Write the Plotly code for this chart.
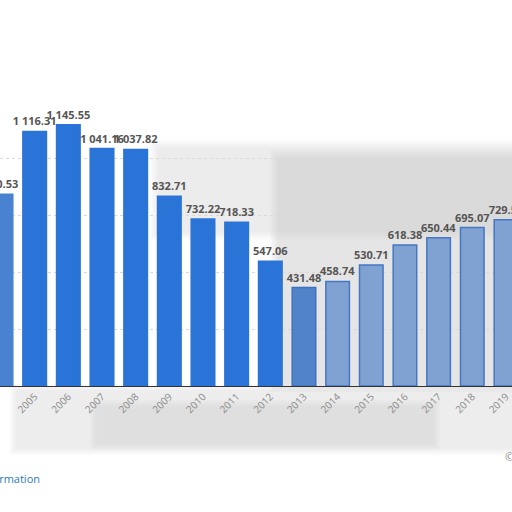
import plotly.graph_objects as go

# values (2004 and 2019 are cut at the edges)
years = [2004, 2005, 2006, 2007, 2008, 2009, 2010, 2011,
         2012, 2013, 2014, 2015, 2016, 2017, 2018, 2019]
values = [840.53, 1116.31, 1145.55, 1041.16, 1037.82, 832.71, 732.22, 718.33,
          547.06, 431.48, 458.74, 530.71, 618.38, 650.44, 695.07, 729.5]
year_labels = [str(y) for y in years]

solid = "#2b74d7"
faded = "#7fa2d2"
bar_colors = ["#4a82d2"] + [solid] * 8 + ["#5183c8"] + [faded] * 6
line_colors = ["#4a82d2"] + [solid] * 8 + ["#3d72c0"] + ["#4677c2"] * 6

PLOT_H = 386  # pixel height of the plot area


def yp(py):
    # page pixel row -> paper y
    return (PLOT_H - py) / PLOT_H


fig = go.Figure()
fig.add_trace(go.Bar(
    x=years, y=values,
    width=0.7,
    marker=dict(color=bar_colors, line=dict(color=line_colors, width=1.5)),
    texttemplate="%{y:,.2f}",
    textposition="outside",
    constraintext="none",
    textfont=dict(family="Open Sans", size=11, color="#555555", weight="bold"),
    cliponaxis=False,
    hoverinfo="skip",
))

# soft grey smear in the background, drawn as stacked faint rectangles
# (page pixels: x0, x1, y0, y1, opacity, edge softness)
blur = [
    (150, 530, 140, 240, 0.35, 10),
    (270, 530, 150, 392, 0.50, 10),
    (10, 530, 384, 455, 0.40, 8),
    (90, 440, 400, 450, 0.35, 8),
]
for x0, x1, y0, y1, op, soft in blur:
    steps = 5
    for k in range(steps):
        d = soft * k / steps
        fig.add_shape(type="rect", xref="paper", yref="paper",
                      x0=(x0 + d) / 512, x1=(x1 - d) / 512,
                      y0=yp(y1 - d), y1=yp(y0 + d),
                      fillcolor="#c8c8c8", opacity=op / steps,
                      line_width=0, layer="below")

fig.add_annotation(text="Additional Information", xref="paper", yref="paper",
                   x=42 / 512, y=yp(478), xanchor="right", yanchor="middle",
                   showarrow=False,
                   font=dict(family="Open Sans", size=11, color="#2a7ab8"))
fig.add_annotation(text="© Statista 2021", xref="paper", yref="paper",
                   x=503 / 512, y=yp(456), xanchor="left", yanchor="middle",
                   showarrow=False,
                   font=dict(family="Open Sans", size=11, color="#888888"))

fig.update_layout(
    width=512, height=512,
    margin=dict(l=0, r=0, t=0, b=512 - PLOT_H),
    plot_bgcolor="white", paper_bgcolor="white",
    separators=". ",
    showlegend=False,
    xaxis=dict(range=[2003.97, 2019.18], tickvals=years, ticktext=year_labels,
               tickangle=-45, tickfont=dict(family="Open Sans", size=10, color="#8a8a8a"),
               showline=True, linecolor="#333333", linewidth=1,
               showgrid=False, ticks=""),
    yaxis=dict(range=[0, 1693], tickvals=[0, 250, 500, 750, 1000],
               showticklabels=False, showgrid=True, gridcolor="#d9d9d9",
               griddash="dot", zeroline=False),
)

fig.write_html("out.html", config={"displayModeBar": False},
               post_script="document.body.style.margin='0';")
